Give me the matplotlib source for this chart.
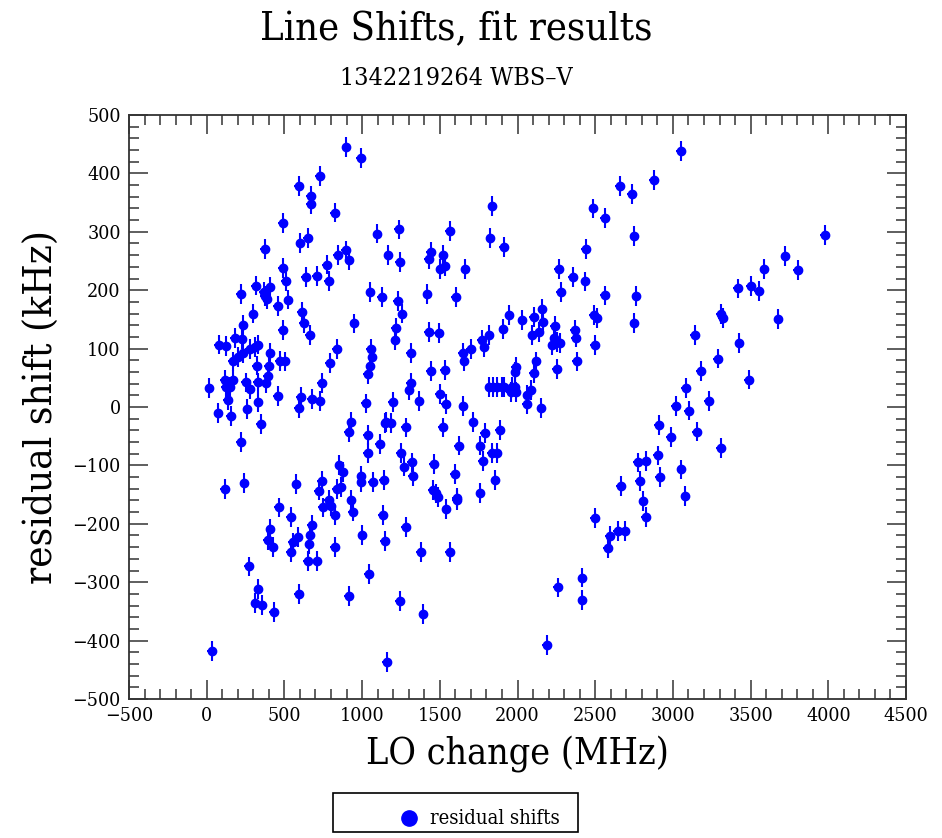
import matplotlib
matplotlib.use('Agg')
import matplotlib.pyplot as plt
from matplotlib.lines import Line2D
from matplotlib.patches import Rectangle
from matplotlib.ticker import MultipleLocator

plt.rcParams['font.family'] = ['DejaVu Serif']
plt.rcParams['font.stretch'] = 'condensed'

# LO change (MHz) and residual shift (kHz)
lo_change = [
    898, 992, 727, 594, 669, 669, 825, 491, 1099, 603, 650, 376, 842, 894, 917, 1168,
    491, 510, 639, 709, 774, 785, 318, 220, 367, 386, 410, 375, 526, 459, 611, 301,
    1052, 1129,
    626, 665, 951, 235, 491, 78, 123, 181, 226, 170, 202, 234, 277, 310, 331, 410,
    470, 502, 322, 399, 395, 382, 331, 252, 277, 170, 115, 123, 16, 149, 134, 333,
    459, 262, 74, 155, 348, 220, 605, 592, 677, 727, 741, 791, 836, 1022, 1058, 1065,
    1052, 1039, 930, 915, 1039, 1039, 1116, 1155, 853, 879, 740, 722, 838, 864, 994,
    996, 1067, 1140, 577, 243, 115, 785, 802, 748, 930, 941, 823, 464, 541, 1133,
    1146, 1001, 1043, 915, 1159, 410, 395, 427, 541, 555, 587, 661, 667, 675, 650,
    709, 823, 271, 333, 314, 359, 430, 594, 35,
    2657, 2734, 2488, 2563, 2751, 2439, 2268, 2357, 2436, 2280, 2563, 2764, 1837,
    1825, 1914, 1563, 1444, 1431, 1523, 1504, 1536, 1664, 1238, 1242, 1229, 1258,
    1420, 1604, 1948, 2032, 2107, 2160, 2492,
    3049, 2877, 3977, 3723, 3588, 3802, 3417, 3502, 3551, 3310, 3678,
    3320, 2751, 3143, 3428, 3290, 3179, 3487, 3085, 3230, 3019, 3102, 2911, 2988,
    3155, 3310, 2905, 2773, 2828, 2787, 2918, 3055, 3081, 2664, 2809, 2824,
    2497, 2593, 2580, 2644, 2691, 2261, 2417, 2417, 2188, 1283, 1380, 1542, 1608,
    1563, 1242, 1394,
    1219, 1213, 1313, 1428, 1493, 1647, 1658, 1701, 1771, 1786, 1818, 1908, 2167,
    2139, 2096, 2242, 2236, 2253, 2225, 2272, 2370, 2375, 2497, 2513, 2381, 2253,
    2122, 2105, 2090, 2064, 2062, 2154, 1990, 1985, 1818, 1844, 1871, 1900, 1914,
    1964, 1985, 1957, 1990, 1534, 1444, 1313, 1305, 1502, 1540, 1369, 1197, 1651,
    1150, 1187, 1283, 1518, 1715, 1790, 1887, 1621, 1760, 1833, 1871, 1775, 1251,
    1272, 1322, 1326, 1460, 1595, 1857, 1454, 1476, 1486, 1608, 1760,
]
residual_shift = [
    445, 427, 395, 378, 362, 348, 333, 315, 297, 281, 290, 270, 261, 268, 252, 261,
    238, 215, 222, 225, 244, 216, 208, 194, 197, 185, 205, 190, 184, 173, 162, 160,
    197, 188,
    144, 124, 143, 140, 132, 107, 105, 118, 116, 78, 85, 92, 99, 103, 107, 92,
    79, 78, 71, 71, 53, 41, 42, 42, 30, 46, 47, 34, 32, 34, 12, 8,
    19, -3, -11, -15, -29, -60, 17, -1, 14, 10, 41, 75, 100, 6, 100, 86,
    70, 56, -25, -43, -48, -79, -64, -26, -99, -112, -127, -143, -141, -137, -118,
    -129, -129, -125, -132, -130, -141, -159, -169, -172, -159, -179, -185, -172, -189, -185,
    -229, -219, -286, -323, -436, -209, -228, -239, -248, -232, -223, -235, -219, -202, -263,
    -263, -240, -273, -312, -336, -339, -351, -320, -418,
    378, 365, 340, 324, 293, 270, 236, 223, 215, 197, 191, 190, 344,
    289, 274, 301, 266, 253, 260, 237, 241, 236, 304, 249, 182, 160,
    193, 188, 157, 149, 154, 168, 157,
    439, 389, 294, 259, 236, 235, 203, 207, 199, 159, 151,
    152, 144, 123, 110, 83, 62, 47, 32, 10, 1, -6, -31, -51,
    -42, -70, -83, -95, -92, -127, -120, -107, -153, -135, -161, -188,
    -190, -221, -241, -213, -213, -309, -292, -330, -407, -206, -249, -175, -159,
    -249, -332, -355,
    135, 114, 93, 129, 127, 92, 78, 100, 115, 102, 123, 133, 146,
    129, 123, 139, 118, 111, 106, 109, 132, 119, 106, 152, 78, 65,
    78, 58, 29, 21, 5, -2, 69, 60, 34, 34, 34, 34, 34,
    34, 34, 26, 26, 63, 62, 41, 29, 22, 5, 10, 9, 2,
    -27, -27, -35, -35, -25, -45, -39, -66, -66, -79, -79, -92, -79,
    -102, -95, -119, -98, -114, -125, -142, -148, -154, -155, -147,
]
shift_err = 17
lo_err = 30

fig = plt.figure(figsize=(9.42, 8.38), dpi=100)
ax = fig.add_axes([129 / 942, 1 - 699 / 838, 777 / 942, 584 / 838])

ax.errorbar(lo_change, residual_shift, yerr=shift_err, xerr=lo_err, fmt='o',
            color='blue', ms=6, elinewidth=1.5, capsize=0)

ax.set_xlim(-500, 4500)
ax.set_ylim(-500, 500)
ax.xaxis.set_major_locator(MultipleLocator(500))
ax.xaxis.set_minor_locator(MultipleLocator(100))
ax.yaxis.set_major_locator(MultipleLocator(100))
ax.yaxis.set_minor_locator(MultipleLocator(20))
ax.tick_params(which='both', direction='in', top=True, right=True,
               colors='#333333', labelcolor='black', labelsize=14)
ax.tick_params(which='major', length=14, width=1.1, pad=6)
ax.tick_params(which='minor', length=7, width=1.1)
for s in ax.spines.values():
    s.set_linewidth(1.3)
    s.set_color('#333333')

ax.set_xlabel('LO change (MHz)', fontsize=27, labelpad=8)
ax.set_ylabel('residual shift (kHz)', fontsize=29, labelpad=8)

fig.text(0.484, 1 - 40 / 838, 'Line Shifts, fit results', fontsize=28.5,
         ha='center', va='baseline')
fig.text(0.484, 1 - 85 / 838, '1342219264 WBS\u2013V', fontsize=18,
         ha='center', va='baseline')

# legend box under the plot
fig.add_artist(Rectangle((333 / 942, 1 - 832 / 838), 245 / 942, 39 / 838,
                         transform=fig.transFigure, fill=False,
                         edgecolor='black', lw=1.2))
fig.add_artist(Line2D([409 / 942], [1 - 818 / 838], marker='o', color='blue',
                      ms=11, transform=fig.transFigure))
fig.text(430 / 942, 1 - 818 / 838, 'residual shifts', fontsize=14.5, va='center')

plt.savefig('out.png', dpi=100)
